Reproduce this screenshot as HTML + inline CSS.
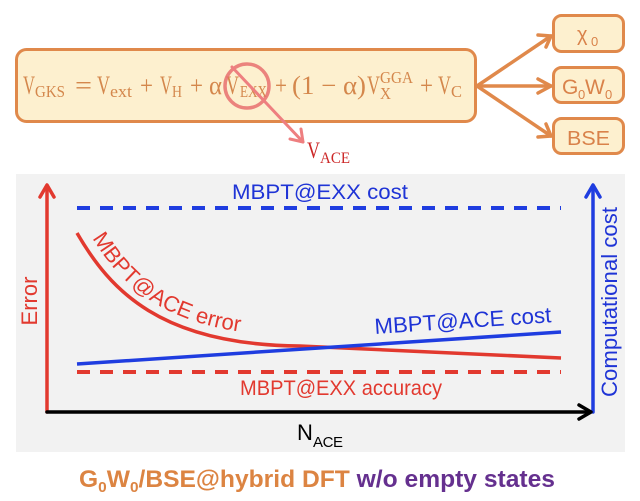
<!DOCTYPE html>
<html><head><meta charset="utf-8"><style>
html,body{margin:0;padding:0;background:#fff;}
svg{display:block;}
</style></head><body>
<svg width="640" height="501" viewBox="0 0 640 501" xmlns="http://www.w3.org/2000/svg">
<rect width="640" height="501" fill="#ffffff"/>

<!-- main equation box -->
<rect x="16.5" y="49.5" width="459" height="72" rx="10" fill="#fdf0cf" stroke="#e0894b" stroke-width="3"/>
<g font-family="Liberation Serif, serif" fill="#d4874c" lengthAdjust="spacingAndGlyphs">
<text x="23" y="94" font-size="26" textLength="12" lengthAdjust="spacingAndGlyphs">V</text>
<text x="35" y="97" font-size="17" textLength="30" lengthAdjust="spacingAndGlyphs">GKS</text>
<text x="75" y="94" font-size="26" textLength="17" lengthAdjust="spacingAndGlyphs">=</text>
<text x="97" y="94" font-size="26" textLength="13" lengthAdjust="spacingAndGlyphs">V</text>
<text x="110" y="97" font-size="17" textLength="22" lengthAdjust="spacingAndGlyphs">ext</text>
<text x="140" y="94" font-size="26" textLength="13" lengthAdjust="spacingAndGlyphs">+</text>
<text x="160" y="94" font-size="26" textLength="12" lengthAdjust="spacingAndGlyphs">V</text>
<text x="172" y="97" font-size="17" textLength="10" lengthAdjust="spacingAndGlyphs">H</text>
<text x="190" y="94" font-size="26" textLength="13" lengthAdjust="spacingAndGlyphs">+</text>
<text x="209" y="94" font-size="26" textLength="13" lengthAdjust="spacingAndGlyphs">α</text>
<text x="226" y="94" font-size="26" textLength="13" lengthAdjust="spacingAndGlyphs">V</text>
<text x="240" y="97" font-size="17" textLength="27" lengthAdjust="spacingAndGlyphs">EXX</text>
<text x="275" y="94" font-size="26" textLength="12" lengthAdjust="spacingAndGlyphs">+</text>
<text x="292" y="94" font-size="26" textLength="74" lengthAdjust="spacingAndGlyphs">(1 − α)</text>
<text x="367" y="94" font-size="26" textLength="13" lengthAdjust="spacingAndGlyphs">V</text>
<text x="380" y="83" font-size="17" textLength="33" lengthAdjust="spacingAndGlyphs">GGA</text>
<text x="380" y="99" font-size="17" textLength="11" lengthAdjust="spacingAndGlyphs">X</text>
<text x="420" y="94" font-size="26" textLength="13" lengthAdjust="spacingAndGlyphs">+</text>
<text x="438" y="94" font-size="26" textLength="13" lengthAdjust="spacingAndGlyphs">V</text>
<text x="451" y="97" font-size="17" textLength="11" lengthAdjust="spacingAndGlyphs">C</text>
</g>

<!-- red circle & arrow to V_ACE -->
<circle cx="247" cy="86" r="22" fill="none" stroke="#e8706e" stroke-opacity="0.85" stroke-width="3.5"/>
<line x1="232" y1="67" x2="303" y2="142" stroke="#ee7f80" stroke-width="3" stroke-linecap="round"/>
<polyline points="301,129 303,142 290,139" fill="none" stroke="#ee7f80" stroke-width="3" stroke-linecap="round" stroke-linejoin="round"/>
<g font-family="Liberation Serif, serif" fill="#cc2727">
<text x="307" y="158" font-size="23" textLength="13" lengthAdjust="spacingAndGlyphs">V</text>
<text x="320" y="163" font-size="16" textLength="30" lengthAdjust="spacingAndGlyphs">ACE</text>
</g>

<!-- orange arrows -->
<g fill="none" stroke="#e0894b" stroke-width="3.5" stroke-linecap="round" stroke-linejoin="round">
<line x1="477" y1="86" x2="551" y2="36"/>
<polyline points="538,35 551,36 546,47"/>
<line x1="477" y1="86" x2="551" y2="86"/>
<polyline points="538,79 551,86 538,93"/>
<line x1="477" y1="86" x2="551" y2="136"/>
<polyline points="546,124 551,136 538,137"/>
</g>

<!-- small boxes -->
<rect x="553.5" y="15.5" width="70" height="36" rx="8" fill="#fdf0cf" stroke="#e0894b" stroke-width="3"/>
<rect x="553.5" y="67.5" width="70" height="35" rx="8" fill="#fdf0cf" stroke="#e0894b" stroke-width="3"/>
<rect x="553.5" y="118.5" width="70" height="35" rx="8" fill="#fdf0cf" stroke="#e0894b" stroke-width="3"/>
<text font-family="Liberation Sans, sans-serif" fill="#d9824a">
<tspan x="577" y="41" font-size="20">χ</tspan><tspan x="591" y="46" font-size="13">0</tspan>
</text>
<text font-family="Liberation Sans, sans-serif" fill="#d9824a" font-size="21">
<tspan x="562" y="94">G</tspan><tspan x="578" y="99" font-size="13">0</tspan><tspan x="585" y="94">W</tspan><tspan x="605" y="99" font-size="13">0</tspan>
</text>
<text x="567" y="145" font-family="Liberation Sans, sans-serif" font-size="20" fill="#d9824a" textLength="43" lengthAdjust="spacingAndGlyphs">BSE</text>

<!-- gray panel -->
<rect x="16" y="174" width="609" height="278" fill="#f2f2f2"/>

<!-- dashed lines -->
<line x1="77" y1="208" x2="561" y2="208" stroke="#1f3de0" stroke-width="4" stroke-dasharray="13,10"/>
<line x1="77" y1="372" x2="561" y2="372" stroke="#e2392f" stroke-width="4" stroke-dasharray="13,10"/>

<!-- curves -->
<path d="M77,233 C110,290 160,345 300,346 L561,358" fill="none" stroke="#e2392f" stroke-width="3.5"/>
<line x1="77" y1="364" x2="561" y2="332" stroke="#1f3de0" stroke-width="3.5"/>

<!-- axes -->
<g fill="none" stroke-width="3.5" stroke-linecap="round" stroke-linejoin="round">
<line x1="47" y1="412" x2="47" y2="186" stroke="#e2392f"/>
<polyline points="40,197 47,185 54,197" stroke="#e2392f"/>
<line x1="593" y1="412" x2="593" y2="186" stroke="#1f3de0"/>
<polyline points="586,197 593,185 600,197" stroke="#1f3de0"/>
<line x1="47" y1="412" x2="590" y2="412" stroke="#000"/>
<polyline points="579,405 591,412 579,419" stroke="#000"/>
</g>

<!-- labels -->
<g font-family="Liberation Sans, sans-serif">
<text x="232" y="199" font-size="21" fill="#1f34d6" textLength="176" lengthAdjust="spacingAndGlyphs">MBPT@EXX cost</text>
<text x="240" y="395" font-size="21" fill="#e2392f" textLength="202" lengthAdjust="spacingAndGlyphs">MBPT@EXX accuracy</text>
<text transform="translate(375,334) rotate(-3.8)" x="0" y="0" font-size="22" fill="#1f34d6" textLength="177" lengthAdjust="spacingAndGlyphs">MBPT@ACE cost</text>
<path id="ep" d="M86,228 C119,284 163,335 300,336" fill="none"/>
<text font-size="22" fill="#e2392f"><textPath href="#ep" startOffset="12">MBPT@ACE error</textPath></text>
<text transform="translate(37,301) rotate(-90)" x="0" y="0" text-anchor="middle" font-size="22" fill="#e2392f">Error</text>
<text transform="translate(617,302) rotate(-90)" x="0" y="0" text-anchor="middle" font-size="22" fill="#1f34d6" textLength="190" lengthAdjust="spacingAndGlyphs">Computational cost</text>
<text fill="#000"><tspan x="297" y="440" font-size="22">N</tspan><tspan x="313" y="447" font-size="15" textLength="30">ACE</tspan></text>
<text x="79" y="487" font-size="24" font-weight="bold" textLength="476" lengthAdjust="spacingAndGlyphs"><tspan fill="#dc8442">G</tspan><tspan fill="#dc8442" font-size="15" dy="5">0</tspan><tspan fill="#dc8442" dy="-5">W</tspan><tspan fill="#dc8442" font-size="15" dy="5">0</tspan><tspan fill="#dc8442" dy="-5">/BSE@hybrid DFT </tspan><tspan fill="#65308f">w/o empty states</tspan></text>
</g>
</svg>
</body></html>
